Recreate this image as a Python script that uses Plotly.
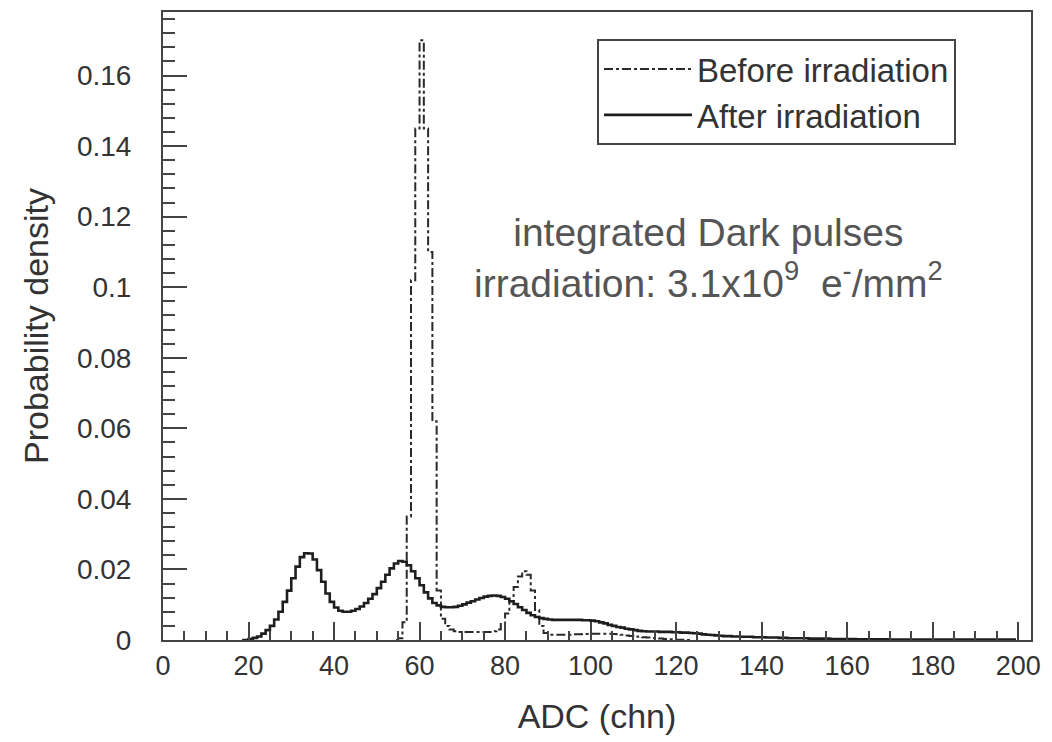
import plotly.graph_objects as go

# After irradiation: probability density per 1-chn bin, starting at bin 18
after_start = 18
after_vals = [
    0.0, 0.0,                                                     # 18-19
    0.0003, 0.0006, 0.0010, 0.0018, 0.0028, 0.0040, 0.0058, 0.0080, 0.0108, 0.0140,  # 20-29
    0.0175, 0.0208, 0.0235, 0.0246, 0.0245, 0.0228, 0.0198, 0.0165, 0.0132, 0.0108,  # 30-39
    0.0092, 0.0083, 0.0080, 0.0080, 0.0083, 0.0088, 0.0095, 0.0105, 0.0117, 0.0130,  # 40-49
    0.0147, 0.0165, 0.0185, 0.0203, 0.0217, 0.0224, 0.0222, 0.0212, 0.0195, 0.0175,  # 50-59
    0.0155, 0.0135, 0.0118, 0.0105, 0.0098, 0.0094, 0.0093, 0.0093, 0.0094, 0.0097,  # 60-69
    0.0101, 0.0106, 0.0110, 0.0115, 0.0119, 0.0123, 0.0125, 0.0126, 0.0125, 0.0122,  # 70-79
    0.0117, 0.0110, 0.0102, 0.0093, 0.0085, 0.0077, 0.0070, 0.0065, 0.0062, 0.0060,  # 80-89
    0.0058, 0.0057, 0.0057, 0.0057, 0.0057, 0.0057, 0.0057, 0.0057, 0.0056, 0.0056,  # 90-99
    0.0055, 0.0053, 0.0050, 0.0047, 0.0043, 0.0040, 0.0037, 0.0035, 0.0032, 0.0030,  # 100-109
    0.0028, 0.0026, 0.0025, 0.0024, 0.0024, 0.0024, 0.0023, 0.0023, 0.0023, 0.0022,  # 110-119
    0.0022, 0.0021, 0.0021, 0.0020, 0.0019, 0.0018, 0.0016, 0.0015, 0.0014, 0.0013,  # 120-129
    0.0012, 0.0011, 0.0011, 0.0010, 0.0010, 0.0009, 0.0009, 0.0009, 0.0008, 0.0008,  # 130-139
    0.0008, 0.0007, 0.0007, 0.0007, 0.0006, 0.0006, 0.0005, 0.0005, 0.0005, 0.0005,  # 140-149
    0.0005, 0.0004, 0.0004, 0.0004, 0.0004, 0.0004, 0.0003, 0.0003, 0.0003, 0.0003,  # 150-159
    0.0003, 0.0003, 0.0002, 0.0002, 0.0002, 0.0002, 0.0002, 0.0002, 0.0002, 0.0002,  # 160-169
    0.0001, 0.0001, 0.0001, 0.0001, 0.0001, 0.0001, 0.0001, 0.0001, 0.0001, 0.0001,  # 170-179
    0.0001, 0.0001, 0.0001, 0.0001, 0.0001, 0.0001, 0.0001, 0.0001, 0.0001, 0.0001,  # 180-189
    0.0001, 0.0001, 0.0001, 0.0001, 0.0001, 0.0001, 0.0001, 0.0001, 0.0001, 0.0001,  # 190-199
]

# Before irradiation: probability density per 1-chn bin, starting at bin 54
before_start = 54
before_vals = [
    0.0, 0.0005, 0.0050, 0.0350, 0.1020, 0.1450,                 # 54-59
    0.1700, 0.1450, 0.1100, 0.0620, 0.0140, 0.0060, 0.0040, 0.0030, 0.0025, 0.0023,  # 60-69
    0.0023, 0.0023, 0.0023, 0.0023, 0.0023, 0.0023, 0.0023, 0.0025, 0.0030, 0.0045,  # 70-79
    0.0075, 0.0110, 0.0150, 0.0180, 0.0195, 0.0185, 0.0140, 0.0085, 0.0040, 0.0020,  # 80-89
    0.0015, 0.0015, 0.0015, 0.0015, 0.0015, 0.0015, 0.0016, 0.0016, 0.0017, 0.0017,  # 90-99
    0.0018, 0.0018, 0.0018, 0.0018, 0.0018, 0.0017, 0.0016, 0.0015, 0.0013, 0.0011,  # 100-109
    0.0010, 0.0009, 0.0008, 0.0007, 0.0006, 0.0005, 0.0004, 0.0003, 0.0002, 0.0001,  # 110-119
    0.0001, 0.0001, 0.0, 0.0,                                     # 120-123
]

x_ticks = [0, 20, 40, 60, 80, 100, 120, 140, 160, 180, 200]
y_ticks = [0, 0.02, 0.04, 0.06, 0.08, 0.1, 0.12, 0.14, 0.16]
y_tick_text = ["0", "0.02", "0.04", "0.06", "0.08", "0.1", "0.12", "0.14", "0.16"]


def bin_centres(start, vals):
    return [start + i + 0.5 for i in range(len(vals))]


bx = bin_centres(before_start, before_vals)
ax_ = bin_centres(after_start, after_vals)

fig = go.Figure()
fig.add_trace(go.Scatter(
    x=bx, y=before_vals, mode="lines", name="Before irradiation",
    line=dict(color="#2a2a2a", width=2, dash="dashdot", shape="hvh"),
))
fig.add_trace(go.Scatter(
    x=ax_, y=after_vals, mode="lines", name="After irradiation",
    line=dict(color="#1e1e1e", width=2.6, shape="hvh"),
))

font_family = "Liberation Sans, Arial, Helvetica, sans-serif"
axis_col = "#444444"

fig.update_layout(
    width=1052, height=742,
    margin=dict(l=163, r=21, t=12, b=102, autoexpand=False),
    paper_bgcolor="white", plot_bgcolor="white",
    font=dict(family=font_family, color="#333333", size=28),
    showlegend=True,
    legend=dict(
        x=0.5, y=0.957, xanchor="left", yanchor="top",
        bordercolor=axis_col, borderwidth=2, bgcolor="white",
        font=dict(size=33, color="#333333"),
        tracegroupgap=0, itemwidth=88,
    ),
    xaxis=dict(
        range=[0, 203], tickvals=x_ticks, ticktext=[str(v) for v in x_ticks],
        ticks="inside", ticklen=18, tickwidth=2, tickcolor=axis_col,
        minor=dict(dtick=5, tick0=0, ticks="inside", ticklen=9, tickwidth=2, tickcolor=axis_col),
        showline=True, linecolor=axis_col, linewidth=2, mirror=True,
        showgrid=False, zeroline=False, automargin=False,
        title=dict(text="ADC (chn)", font=dict(size=34), standoff=24),
        tickfont=dict(size=27), ticklabelstandoff=1, ticklabeloverflow="allow",
    ),
    yaxis=dict(
        range=[0, 0.178], tickvals=y_ticks, ticktext=y_tick_text,
        ticks="inside", ticklen=24, tickwidth=2, tickcolor=axis_col,
        minor=dict(dtick=0.004, tick0=0, ticks="inside", ticklen=12, tickwidth=2, tickcolor=axis_col),
        showline=True, linecolor=axis_col, linewidth=2, mirror=True,
        showgrid=False, zeroline=False, automargin=False,
        title=dict(text="Probability density", font=dict(size=34), standoff=18),
        tickfont=dict(size=28), ticklabelstandoff=24,
    ),
    annotations=[
        dict(
            x=0.628, y=0.608, xref="paper", yref="paper", xanchor="center", yanchor="middle",
            text="integrated Dark pulses<br>irradiation: 3.1x10<sup>9</sup>  e<sup>-</sup>/mm<sup>2</sup>",
            showarrow=False, font=dict(size=39, color="#555555", family=font_family),
            align="center",
        )
    ],
)

fig.write_html("out.html")
